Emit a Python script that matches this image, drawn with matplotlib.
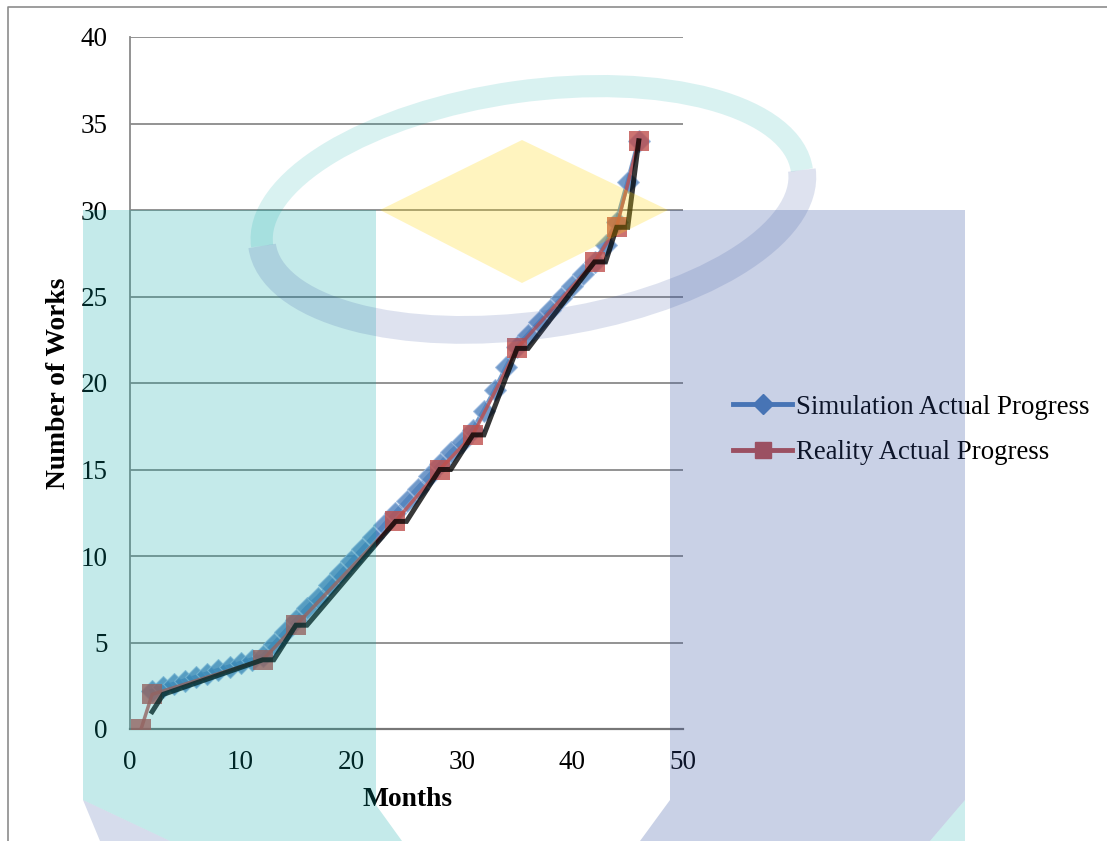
import matplotlib
matplotlib.use('Agg')
import matplotlib.pyplot as plt
from matplotlib.lines import Line2D
from matplotlib.patches import Polygon, Arc

# data
sim_months = list(range(2, 47))
sim_works = [2.2, 2.4, 2.6, 2.8, 3.0, 3.2, 3.4, 3.6, 3.8, 4.0, 4.2,
             4.9, 5.6, 6.3, 7.0, 7.6, 8.3, 9.0, 9.7, 10.4, 11.1, 11.8, 12.5,
             13.2, 13.9, 14.6, 15.3, 16.0, 16.6, 17.3, 18.4, 19.6, 20.9, 22.1,
             22.8, 23.5, 24.2, 24.9, 25.6, 26.3, 27.0, 28.0, 29.3, 31.6, 34.0]

real_months = [1, 2, 12, 15, 24, 28, 31, 35, 42, 44, 46]
real_works = [0, 2, 4, 6, 12, 15, 17, 22, 27, 29, 34]

trend_months = [2, 3, 12, 13, 15, 16, 24, 25, 28, 29, 31, 32, 35, 36, 42, 43, 44, 45, 46]
trend_works = [1, 2, 4, 4, 6, 6, 12, 12, 15, 15, 17, 17, 22, 22, 27, 27, 29, 29, 34]

labels = ['Simulation Actual Progress', 'Reality Actual Progress']
x_ticks = [0, 10, 20, 30, 40, 50]
y_ticks = [0, 5, 10, 15, 20, 25, 30, 35, 40]

BLUE = '#4F81BD'
RED = '#C0504D'

plt.rcParams['font.family'] = ['Liberation Serif', 'DejaVu Serif']

W, H = 1107, 841
fig = plt.figure(figsize=(W / 100, H / 100), dpi=100)
ax = fig.add_axes([130 / W, 1 - 729 / H, 553 / W, 692 / H])

ax.plot(sim_months, sim_works, color=BLUE, lw=3.5, marker='D', markersize=11,
        markeredgecolor='#9DBBE0', markeredgewidth=0.8, alpha=0.8, zorder=3)
ax.plot(real_months, real_works, color=RED, lw=2.5, marker='s', markersize=14,
        markeredgewidth=0, alpha=0.8, zorder=4)
ax.plot(trend_months, trend_works, color='black', lw=3.6, alpha=0.78, zorder=5,
        solid_joinstyle='miter')

ax.set_xlim(0, 50)
ax.set_ylim(0, 40)
ax.set_xticks(x_ticks)
ax.set_yticks(y_ticks)
ax.tick_params(length=0, labelsize=19.5)
ax.tick_params(axis='y', pad=16)
ax.tick_params(axis='x', pad=15)
ax.yaxis.grid(True, color='#8a8a8a', lw=1.3)
ax.set_axisbelow(True)
for s in ['top', 'right']:
    ax.spines[s].set_visible(False)
ax.spines['left'].set_color('#8a8a8a')
ax.spines['left'].set_linewidth(1.3)
ax.spines['bottom'].set_color('#777777')
ax.spines['bottom'].set_linewidth(1.6)

ax.set_xlabel('Months', fontsize=19.8, fontweight='bold')
ax.set_ylabel('Number of Works', fontsize=19.8, fontweight='bold')
ax.xaxis.label.set_va('center')
ax.yaxis.label.set_va('center')
ax.xaxis.set_label_coords(0.501, -0.1026)
ax.yaxis.set_label_coords(-0.130, 0.5)

handles = [Line2D([], [], color=BLUE, lw=3.5, marker='D', markersize=10),
           Line2D([], [], color=RED, lw=3.5, marker='s', markersize=12)]
fig.legend(handles, labels, loc='center left', bbox_to_anchor=(733 / W, 1 - 430 / H),
           frameon=False, fontsize=19.4, handlelength=2.2, handletextpad=0.12,
           labelspacing=0.75, borderpad=0, borderaxespad=0)

# watermark drawn over the page
wm = fig.add_axes([0, 0, 1, 1], zorder=10)
wm.set_xlim(0, W)
wm.set_ylim(H, 0)
wm.axis('off')
wm.patch.set_alpha(0)

TEAL = '#00A8A6'
LAV = '#3250A0'
wm.add_patch(Polygon([(83, 210), (376, 210), (376, 805), (402, 841), (170, 841), (83, 800)],
                     closed=True, fc=TEAL, ec='none', alpha=0.23))
wm.add_patch(Polygon([(83, 800), (170, 841), (100, 841)],
                     closed=True, fc=LAV, ec='none', alpha=0.2))
wm.add_patch(Polygon([(670, 210), (965, 210), (965, 800), (930, 841), (640, 841), (670, 800)],
                     closed=True, fc=LAV, ec='none', alpha=0.26))
wm.add_patch(Polygon([(965, 800), (965, 841), (930, 841)],
                     closed=True, fc=TEAL, ec='none', alpha=0.2))
wm.add_patch(Polygon([(522, 140), (668, 210), (522, 283), (380, 210)],
                     closed=True, fc='#FFD700', ec='none', alpha=0.25))
wm.add_patch(Arc((532, 208), 545, 234, angle=-8, theta1=180, theta2=360,
                 color=TEAL, lw=16, alpha=0.15))
wm.add_patch(Arc((532, 208), 545, 234, angle=-8, theta1=0, theta2=180,
                 color=LAV, lw=20, alpha=0.16))

wm.plot([8, 8, W], [H, 7, 7], color='#8c8c8c', lw=1.2)

fig.savefig('out.png', dpi=100)
